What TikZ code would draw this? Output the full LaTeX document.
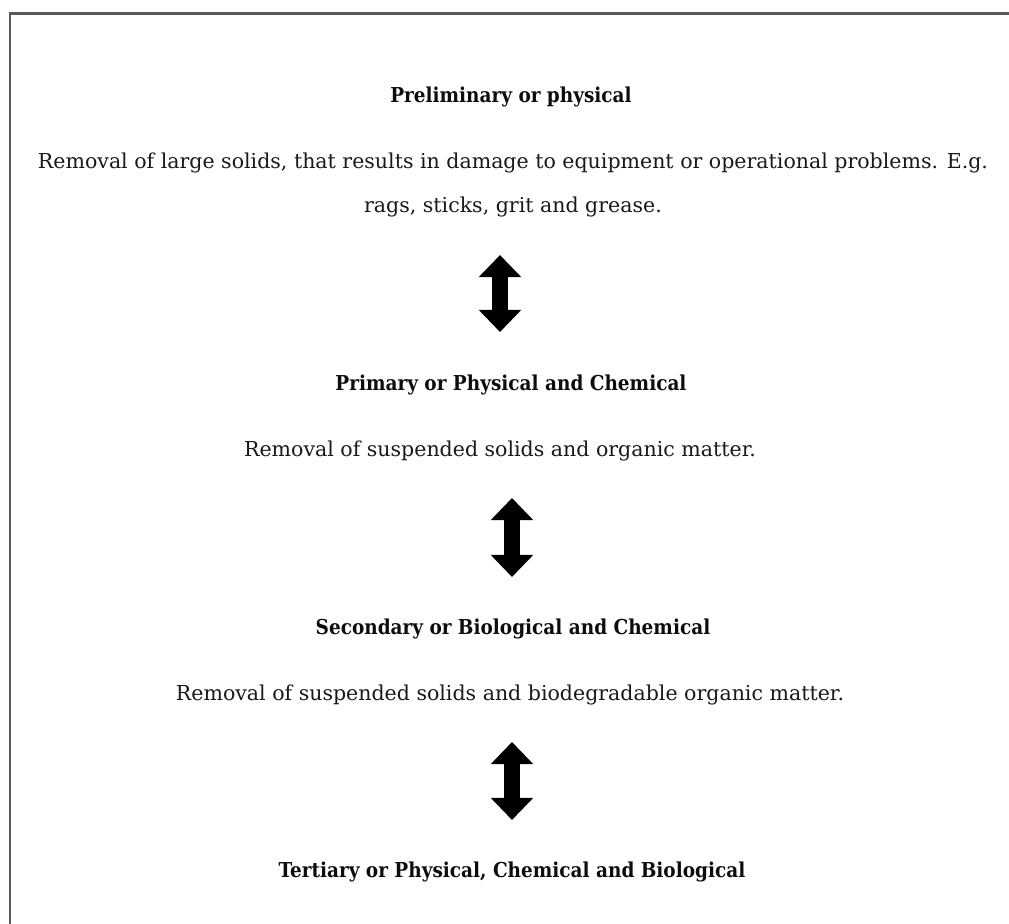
\documentclass[tikz,border=0pt]{standalone}
\usepackage{fontspec}
\setmainfont{DejaVu Serif}
\newfontfamily\headfont{DejaVu Serif Condensed}
\usepackage{tikz}
\usetikzlibrary{arrows.meta, positioning}

\begin{document}
\begin{tikzpicture}[x=0.025cm, y=-0.025cm,
    head/.style={font=\headfont\fontsize{14.6}{17}\selectfont\bfseries, text=black!95, inner sep=0pt},
    desc/.style={font=\fontsize{14.6}{31.3}\selectfont, text=black!90, align=center, inner sep=0pt},
    updown/.style={line width=0.42cm,
      {Triangle[width=1.025cm, length=0.55cm]}-{Triangle[width=1.025cm, length=0.55cm]}}]
  \useasboundingbox (0,0) rectangle (1009,924);
  \clip (0,0) rectangle (1009,924);

  % frame (only left and top edges show)
  \draw[black!65, line width=2.1pt] (10,1000) |- (1100,13.5);

  % stages
  \node[head] (prelim) at (511,97) {Preliminary or physical};
  \node[desc] (prelimtxt) at (513,185)
    {Removal of large solids, that results in damage to equipment or operational problems. E.g.\\
     rags, sticks, grit and grease.};
  \node[head] (primary) at (511,385) {Primary or Physical and Chemical};
  \node[desc] (primarytxt) at (500,451) {Removal of suspended solids and organic matter.};
  \node[head] (second) at (513,629) {Secondary or Biological and Chemical};
  \node[desc] (secondtxt) at (510,695) {Removal of suspended solids and biodegradable organic matter.};
  \node[head] (tert) at (512,872) {Tertiary or Physical, Chemical and Biological};

  % double arrows
  \coordinate (a1top) at (500,255);
  \coordinate (a1bot) at (500,332);
  \coordinate (a2top) at (512,498);
  \coordinate (a2bot) at (512,577);
  \coordinate (a3top) at (512,742);
  \coordinate (a3bot) at (512,820);
  \draw[updown] (a1top) -- (a1bot);
  \draw[updown] (a2top) -- (a2bot);
  \draw[updown] (a3top) -- (a3bot);
\end{tikzpicture}
\end{document}
